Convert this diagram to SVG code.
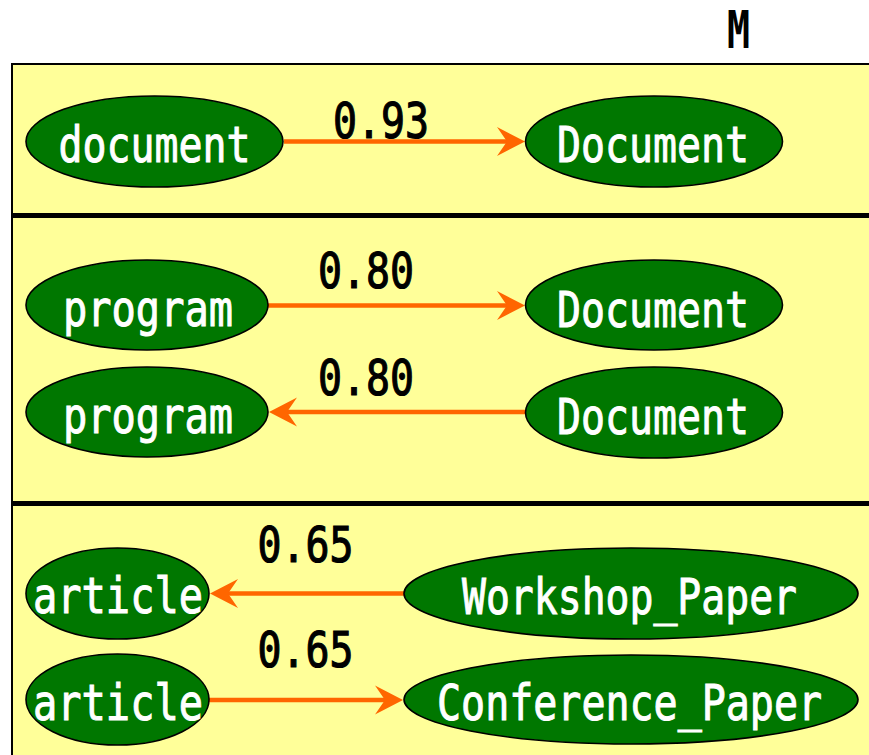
<svg xmlns="http://www.w3.org/2000/svg" width="869" height="755" viewBox="0 0 869 755">
  <style>
    .panel { fill: #FFFF99; stroke: #000; stroke-width: 2; }
    .sep { stroke: #000; stroke-width: 5; }
    .node ellipse { fill: #007700; stroke: #000; stroke-width: 1.6; }
    .node text { fill: #fff; stroke: #fff; stroke-width: 1; font-family: "DejaVu Sans Mono", "Liberation Mono", monospace; font-size: 50px; text-anchor: middle; }
    .edge line { stroke: #FF6600; stroke-width: 4.5; marker-end: url(#arrow); }
    .edge text { fill: #000; stroke: #000; stroke-width: 1.2; font-family: "DejaVu Sans Mono", "Liberation Mono", monospace; font-size: 50px; text-anchor: middle; }
    .title { fill: #000; font-family: "DejaVu Sans Mono", "Liberation Mono", monospace; font-size: 52px; font-weight: bold; text-anchor: middle; }
  </style>
  <defs>
    <marker id="arrow" markerUnits="userSpaceOnUse" viewBox="-30 -16 32 32" markerWidth="32" markerHeight="32" refX="-18" refY="0" orient="auto">
      <path d="M0,0 L-28,-14.5 L-18,0 L-28,14.5 Z" fill="#FF6600"/>
    </marker>
  </defs>

  <rect width="869" height="755" fill="#fff"/>

  <text class="title" x="738.5" y="48" textLength="23" lengthAdjust="spacingAndGlyphs">M</text>

  <!-- panel with three bands -->
  <rect class="panel" x="12" y="64" width="900" height="720"/>
  <line class="sep" x1="12" y1="215.5" x2="869" y2="215.5"/>
  <line class="sep" x1="12" y1="503.5" x2="869" y2="503.5"/>

  <g id="connectors">
    <g class="edge" id="e-document-Document">
      <line x1="284" y1="141.5" x2="507" y2="141.5"/>
      <text x="381" y="138" textLength="96" lengthAdjust="spacingAndGlyphs">0.93</text>
    </g>
    <g class="edge" id="e-program-Document">
      <line x1="268" y1="305.5" x2="507" y2="305.5"/>
      <text x="366" y="288" textLength="96" lengthAdjust="spacingAndGlyphs">0.80</text>
    </g>
    <g class="edge" id="e-Document-program">
      <line x1="525" y1="412" x2="287" y2="412"/>
      <text x="366" y="395" textLength="96" lengthAdjust="spacingAndGlyphs">0.80</text>
    </g>
    <g class="edge" id="e-Workshop-article">
      <line x1="404" y1="593.5" x2="228" y2="593.5"/>
      <text x="305.5" y="562" textLength="96" lengthAdjust="spacingAndGlyphs">0.65</text>
    </g>
    <g class="edge" id="e-article-Conference">
      <line x1="209" y1="700" x2="385" y2="700"/>
      <text x="305.5" y="667" textLength="96" lengthAdjust="spacingAndGlyphs">0.65</text>
    </g>
  </g>

  <g class="node" id="n-document">
    <ellipse cx="154.5" cy="141.5" rx="128.5" ry="45.5"/>
    <text x="154.5" y="162" textLength="192" lengthAdjust="spacingAndGlyphs">document</text>
  </g>
  <g class="node" id="n-Document-1">
    <ellipse cx="654" cy="141.5" rx="128.5" ry="45.5"/>
    <text x="653" y="162" textLength="192" lengthAdjust="spacingAndGlyphs">Document</text>
  </g>
  <g class="node" id="n-program-1">
    <ellipse cx="147" cy="305" rx="121" ry="45"/>
    <text x="148" y="326" textLength="170" lengthAdjust="spacingAndGlyphs">program</text>
  </g>
  <g class="node" id="n-Document-2">
    <ellipse cx="654" cy="305" rx="128.5" ry="45"/>
    <text x="653" y="327" textLength="192" lengthAdjust="spacingAndGlyphs">Document</text>
  </g>
  <g class="node" id="n-program-2">
    <ellipse cx="147" cy="412" rx="121" ry="45"/>
    <text x="148" y="433" textLength="170" lengthAdjust="spacingAndGlyphs">program</text>
  </g>
  <g class="node" id="n-Document-3">
    <ellipse cx="654" cy="412.5" rx="128.5" ry="45.5"/>
    <text x="653" y="434" textLength="192" lengthAdjust="spacingAndGlyphs">Document</text>
  </g>
  <g class="node" id="n-article-1">
    <ellipse cx="117.5" cy="593.5" rx="91.5" ry="45.5"/>
    <text x="118" y="613" textLength="170" lengthAdjust="spacingAndGlyphs">article</text>
  </g>
  <g class="node" id="n-Workshop_Paper">
    <ellipse cx="631" cy="593.5" rx="227" ry="45.5"/>
    <text x="629.5" y="614" textLength="335" lengthAdjust="spacingAndGlyphs">Workshop_Paper</text>
  </g>
  <g class="node" id="n-article-2">
    <ellipse cx="117.5" cy="699.5" rx="91.5" ry="45.5"/>
    <text x="118" y="720" textLength="170" lengthAdjust="spacingAndGlyphs">article</text>
  </g>
  <g class="node" id="n-Conference_Paper">
    <ellipse cx="631" cy="699.5" rx="227" ry="44.5"/>
    <text x="629.5" y="720" textLength="385" lengthAdjust="spacingAndGlyphs">Conference_Paper</text>
  </g>
</svg>
